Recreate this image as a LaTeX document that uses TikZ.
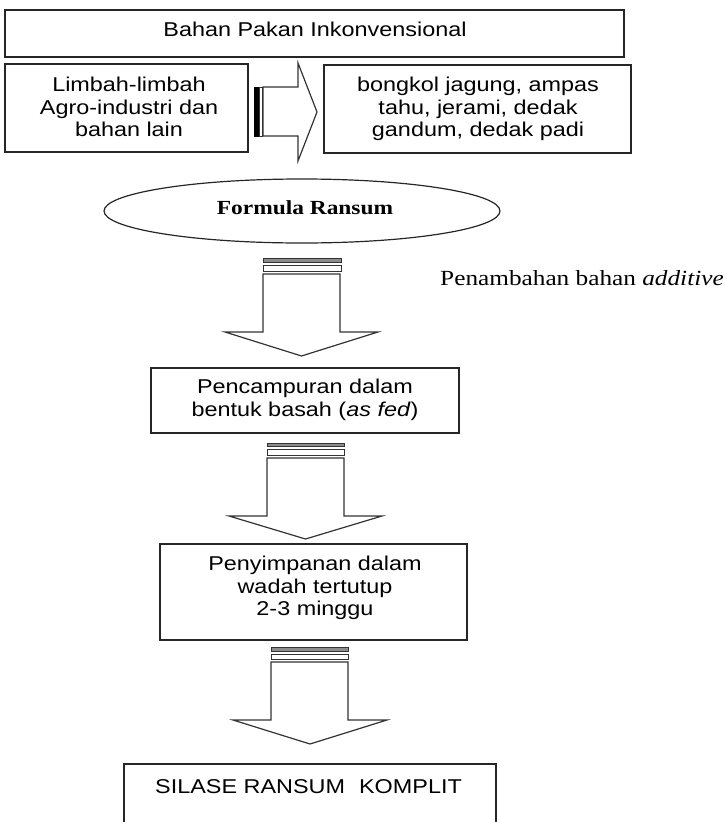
\documentclass[tikz,border=0pt]{standalone}
\usepackage{fontspec}
\setmainfont{Liberation Sans}
\newfontfamily\seriffam{Liberation Serif}
\usetikzlibrary{shapes.geometric}
\begin{document}
\begin{tikzpicture}[x=1pt,y=-1pt,
  frame/.style={draw=black!85, line width=1.3pt, fill=white, inner sep=0pt},
  lbl/.style={inner sep=0pt, font=\fontsize{20}{22.5}\selectfont, align=center, xscale=1.17},
  serlbl/.style={inner sep=0pt, font=\seriffam\fontsize{20}{22}\selectfont, xscale=1.17},
  blk/.style={draw=black!80, line width=1.2pt, fill=white, line join=miter},
  stripeA/.style={draw=black!80, line width=0.9pt, fill=black!45},
  stripeB/.style={draw=black!80, line width=0.9pt, fill=white}]
\useasboundingbox (0,0) rectangle (726,822);
\clip (0,0) rectangle (726,822);

% top row
\node[frame, minimum width=619pt, minimum height=47pt] (top) at (314.5,33.5) {};
\node[lbl, anchor=base] (toptxt) at (315,36) {Bahan Pakan Inkonvensional};

\node[frame, minimum width=243pt, minimum height=88pt] (limbah) at (126.5,108) {};
\node[lbl] (limbahtxt) at (129,107) {Limbah-limbah\\Agro-industri dan\\bahan lain};

\node[frame, minimum width=307pt, minimum height=88pt] (bahan) at (477.5,109) {};
\node[lbl] (bahantxt) at (478,109) {bongkol jagung, ampas\\tahu, jerami, dedak\\gandum, dedak padi};

% striped right arrow
\draw[stripeA, draw=black, fill=black] (254,87) rectangle (258,136);
\draw[stripeB] (259.5,87) rectangle (262,136);
\draw[blk] (263,87) -- (298,87) -- (298,63) -- (317,112) -- (298,161) -- (298,136) -- (263,136) -- cycle;

% ellipse
\node[ellipse, draw=black!85, line width=1.2pt, minimum width=396pt, minimum height=64pt, inner sep=0pt] (formula) at (302,211) {};
\node[serlbl, font=\seriffam\bfseries\fontsize{20}{22}\selectfont, anchor=base] (formulatxt) at (305,214) {Formula Ransum};

% additive label
\node[serlbl, font=\seriffam\fontsize{21.6}{24}\selectfont, anchor=base west] (additive) at (440,285) {Penambahan bahan \textit{additive}};

% arrow 1
\draw[stripeA] (263,258) rectangle (341,262);
\draw[stripeB] (263,265) rectangle (341,271);
\draw[blk] (263,274) -- (340,274) -- (340,332) -- (378,332) -- (301.5,356) -- (225,332) -- (263,332) -- cycle;

% box 2
\node[frame, minimum width=308pt, minimum height=65pt] (campur) at (305,400.5) {};
\node[lbl] (campurtxt) at (305,400) {Pencampuran dalam\\bentuk basah (\textit{as fed})};

% arrow 2
\draw[stripeA] (267,443) rectangle (344,446);
\draw[stripeB] (267,449) rectangle (344,455);
\draw[blk] (267,458) -- (344,458) -- (344,516) -- (382,516) -- (305.5,539) -- (229,516) -- (267,516) -- cycle;

% box 3
\node[frame, minimum width=307pt, minimum height=96pt] (simpan) at (313.5,592) {};
\node[lbl] (simpantxt) at (315,588) {Penyimpanan dalam\\wadah tertutup\\2-3 minggu};

% arrow 3
\draw[stripeA] (271,647) rectangle (348,651);
\draw[stripeB] (271,654) rectangle (348,659);
\draw[blk] (271,662) -- (348,662) -- (348,720) -- (387,720) -- (310,744) -- (233,720) -- (271,720) -- cycle;

% box 4 (cut by the page edge)
\node[frame, minimum width=372pt, minimum height=100pt] (silase) at (310,814) {};
\node[lbl, anchor=base west] (silasetxt) at (155,793) {SILASE RANSUM\hspace{0.6em}KOMPLIT};
\end{tikzpicture}
\end{document}
